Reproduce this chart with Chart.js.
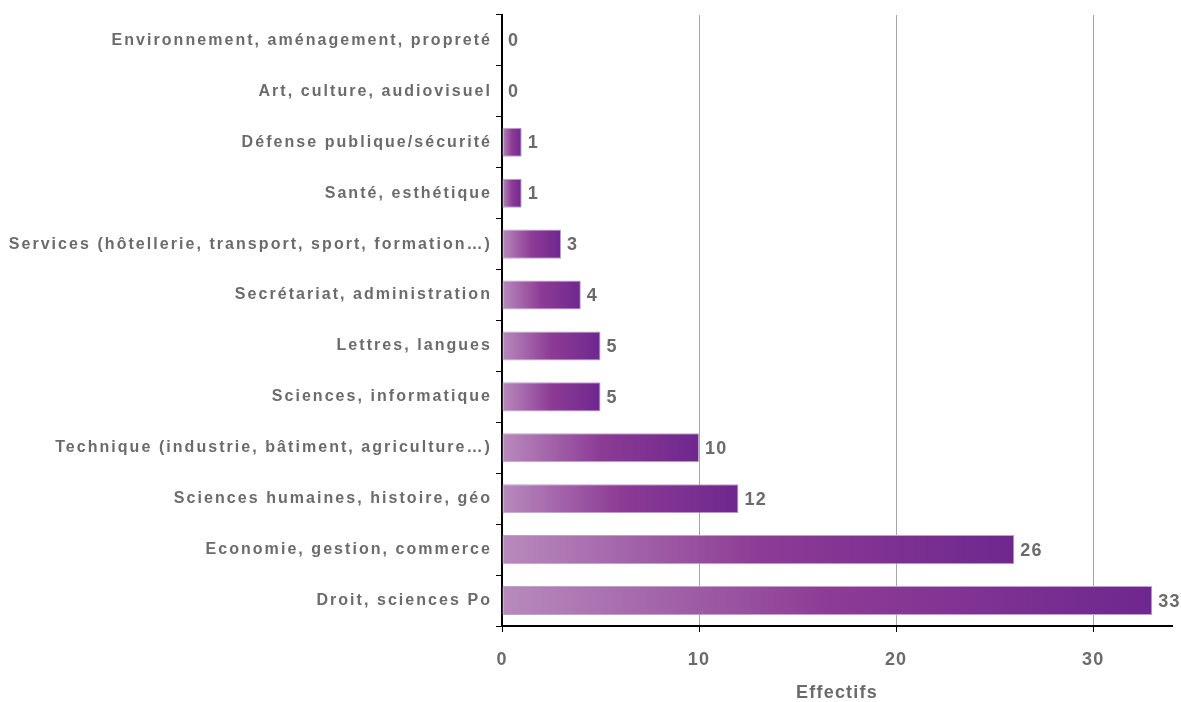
<!DOCTYPE html>
<html>
<head>
<meta charset="utf-8">
<script src="https://cdn.jsdelivr.net/npm/chart.js@4/dist/chart.umd.min.js"></script>
<style>
  html, body { margin: 0; padding: 0; background: #fff; }
  #wrap { width: 1181px; height: 702px; }
</style>
</head>
<body>
<div id="wrap"><canvas id="chart" width="1181" height="702"></canvas></div>
<script>
const categories = [
  "Environnement, aménagement, propreté",
  "Art, culture, audiovisuel",
  "Défense publique/sécurité",
  "Santé, esthétique",
  "Services (hôtellerie, transport, sport, formation…)",
  "Secrétariat, administration",
  "Lettres, langues",
  "Sciences, informatique",
  "Technique (industrie, bâtiment, agriculture…)",
  "Sciences humaines, histoire, géo",
  "Economie, gestion, commerce",
  "Droit, sciences Po"
];
const effectifs = [0, 0, 1, 1, 3, 4, 5, 5, 10, 12, 26, 33];
const xTicks = [0, 10, 20, 30];
const axisTitle = "Effectifs";

const grey = "#6b6b6b";
const font = "'Liberation Sans', Arial, sans-serif";

// gradient per bar, light on the left, dark on the right
function barGradient(ctx) {
  const chart = ctx.chart;
  if (!chart.chartArea || !chart.scales.x) return "#8c3a94";
  const x0 = chart.scales.x.getPixelForValue(0);
  const x1 = chart.scales.x.getPixelForValue(ctx.raw || 0);
  if (x1 - x0 < 1) return "#b685bb";
  const g = chart.ctx.createLinearGradient(x0, 0, x1, 0);
  g.addColorStop(0, "#b88abd");
  g.addColorStop(0.5, "#8d3c95");
  g.addColorStop(1, "#6e278f");
  return g;
}

// the original text is set a bit wide, like old office charts
const spacing = { x: "1.2px", y: "2.05px" };
const wideText = {
  id: "wideText",
  beforeDraw(chart) {
    for (const id of ["x", "y"]) {
      const s = chart.scales[id];
      if (!s || s._wide) continue;
      const dl = s.drawLabels.bind(s);
      const dt = s.drawTitle.bind(s);
      s.drawLabels = a => {
        chart.ctx.letterSpacing = spacing[id];
        dl(a);
        chart.ctx.letterSpacing = "0px";
      };
      s.drawTitle = a => {
        chart.ctx.letterSpacing = spacing[id];
        dt(a);
        chart.ctx.letterSpacing = "0px";
      };
      s._wide = true;
    }
  }
};

const valueLabels = {
  id: "valueLabels",
  afterDatasetsDraw(chart) {
    const c = chart.ctx;
    const meta = chart.getDatasetMeta(0);
    c.save();
    c.letterSpacing = spacing.x;
    c.font = "bold 18px " + font;
    c.fillStyle = grey;
    c.textBaseline = "middle";
    c.textAlign = "left";
    meta.data.forEach((el, i) => {
      c.fillText(String(effectifs[i]), el.x + 6, el.y + 1);
    });
    c.restore();
  }
};

new Chart(document.getElementById("chart"), {
  type: "bar",
  data: {
    labels: categories,
    datasets: [{
      data: effectifs,
      backgroundColor: barGradient,
      borderColor: "#b9a5c8",
      borderWidth: 1,
      borderSkipped: false,
      categoryPercentage: 1,
      barPercentage: 0.57
    }]
  },
  options: {
    indexAxis: "y",
    responsive: false,
    animation: false,
    layout: { padding: { top: 15, right: 9, left: 0, bottom: 0 } },
    plugins: {
      legend: { display: false },
      tooltip: { enabled: false }
    },
    scales: {
      x: {
        min: 0,
        max: 34,
        afterBuildTicks: s => { s.ticks = xTicks.map(v => ({ value: v })); },
        afterFit: s => { s.height = 76; },
        border: { color: "#000", width: 2 },
        grid: {
          color: c => (c.tick && c.tick.value === 0) ? "rgba(0,0,0,0)" : "#a6a6a6",
          tickColor: "#000",
          tickLength: 6,
          lineWidth: 1
        },
        ticks: {
          color: grey,
          font: { family: font, size: 18, weight: "bold" },
          padding: 17
        },
        title: {
          display: true,
          text: axisTitle,
          color: grey,
          font: { family: font, size: 18, weight: "bold" },
          padding: { top: 6, bottom: -2 }
        }
      },
      y: {
        afterFit: s => { s.width = 502; },
        border: { color: "#000", width: 2 },
        grid: {
          offset: true,
          drawOnChartArea: false,
          tickColor: "#000",
          tickLength: 6
        },
        ticks: {
          color: grey,
          font: { family: font, size: 16, weight: "bold" },
          padding: 4
        }
      }
    }
  },
  plugins: [wideText, valueLabels]
});
</script>
</body>
</html>
